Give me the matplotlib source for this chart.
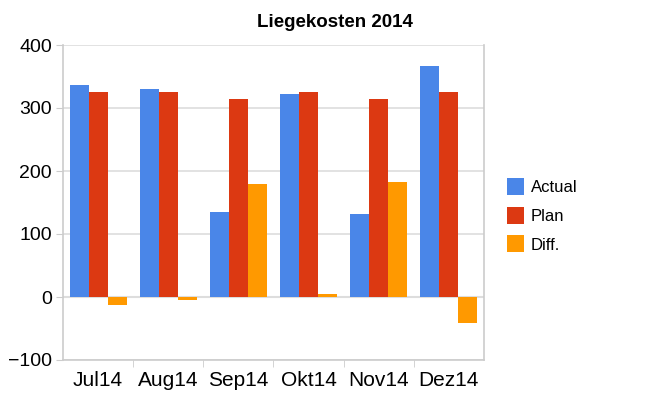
import numpy as np
import matplotlib.pyplot as plt
from matplotlib.ticker import MultipleLocator, FixedLocator

plt.rcParams['font.family'] = ['Liberation Sans', 'DejaVu Sans']

# data
months = ['Jul14', 'Aug14', 'Sep14', 'Okt14', 'Nov14', 'Dez14']
actual = [336, 330, 135, 322, 132, 367]
plan = [325, 325, 314, 325, 314, 325]
diff = [-12, -4, 179, 5, 182, -41]

series = [('Actual', actual, '#4A86E8'),
          ('Plan', plan, '#DC3912'),
          ('Diff.', diff, '#FF9900')]

fig = plt.figure(figsize=(6.7, 4), dpi=100)
ax = fig.add_axes([63 / 670, 40 / 400, 421 / 670, 315 / 400])

x = np.arange(len(months))
w = 0.27
for i, (name, vals, col) in enumerate(series):
    ax.bar(x + (i - 1) * w, vals, w, color=col, label=name, zorder=3)

ax.set_xlim(-0.5, len(months) - 0.5)
ax.set_ylim(-100, 400)
ax.yaxis.set_major_locator(MultipleLocator(100))
ax.grid(axis='y', color='#dddddd', linewidth=1.2, zorder=0)
ax.axhline(0, color='#dddddd', linewidth=1.5, zorder=1)

ax.set_xticks(x)
ax.set_xticklabels(months)
ax.xaxis.set_minor_locator(FixedLocator(np.arange(0.5, len(months) - 1, 1.0)))
ax.tick_params(axis='x', which='major', length=0, labelsize=15, pad=8)
ax.tick_params(axis='x', which='minor', length=5, color='#cccccc')
ax.tick_params(axis='y', length=5, color='#cccccc', labelsize=14, pad=3)

for s in ['left', 'right', 'bottom']:
    ax.spines[s].set_color('#cccccc')
    ax.spines[s].set_linewidth(1.2)
ax.spines['top'].set_visible(False)

fig.suptitle('Liegekosten 2014', x=0.5, y=0.965, fontsize=13.5, fontweight='bold')

ax.legend(loc='center left', bbox_to_anchor=(1.02, 0.46), frameon=False,
          fontsize=12, handlelength=1.0, handleheight=1.2, labelspacing=0.7,
          handletextpad=0.4)

fig.savefig('out.png', dpi=100)
